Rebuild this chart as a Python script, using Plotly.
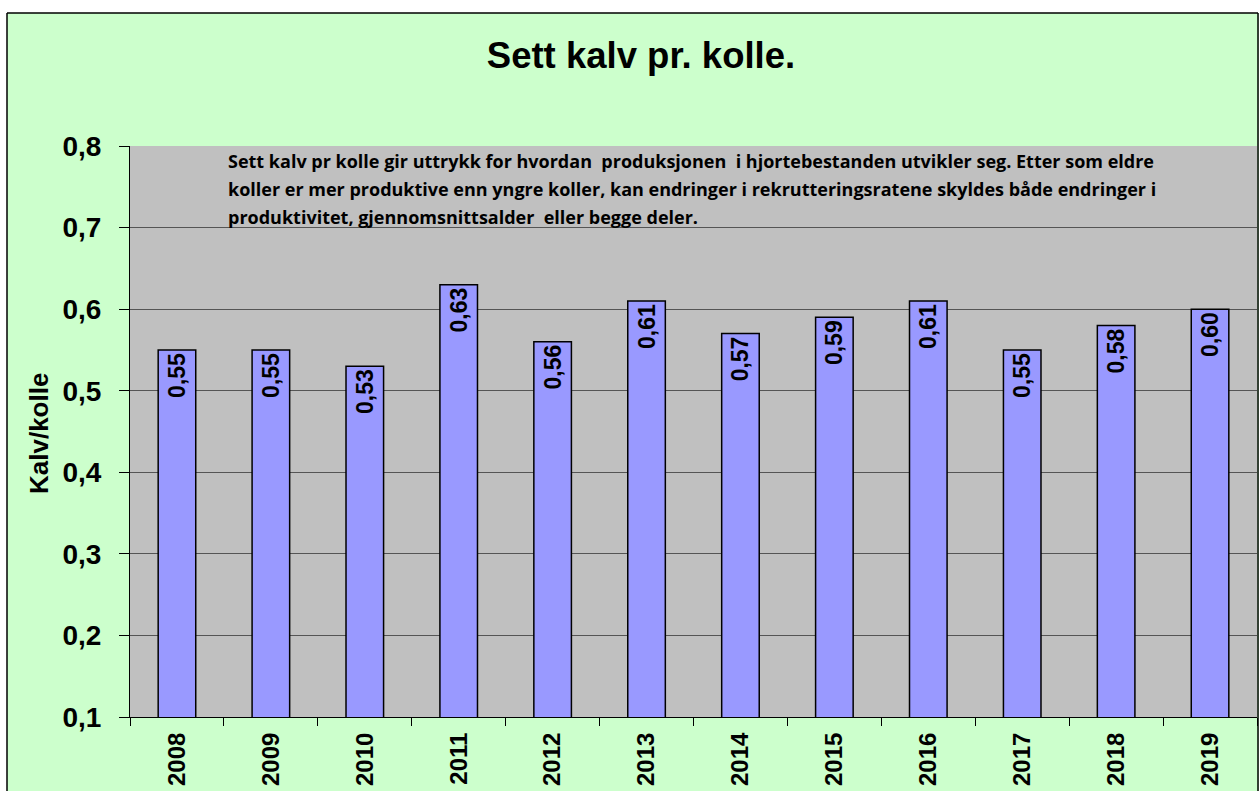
import plotly.graph_objects as go

years = ["2008", "2009", "2010", "2011", "2012", "2013", "2014", "2015", "2016", "2017", "2018", "2019"]
values = [0.55, 0.55, 0.53, 0.63, 0.56, 0.61, 0.57, 0.59, 0.61, 0.55, 0.58, 0.60]
title_text = "Sett kalv pr. kolle."
y_title = "Kalv/kolle"
note_lines = [
    "Sett kalv pr kolle gir uttrykk for hvordan  produksjonen  i hjortebestanden utvikler seg. Etter som eldre",
    "koller er mer produktive enn yngre koller, kan endringer i rekrutteringsratene skyldes både endringer i",
    "produktivitet, gjennomsnittsalder  eller begge deler.",
]

W, H = 1259, 791
L, R, T, B = 130, 1257, 146, 717


def px(x):
    return (x - L) / (R - L)


def py(y):
    return (B - y) / (B - T)


FONT = "Liberation Sans, Arial, sans-serif"

fig = go.Figure()
fig.add_trace(go.Bar(
    x=years, y=values,
    marker=dict(color="#9999FF", line=dict(color="#000000", width=1.5)),
    width=0.4,
    texttemplate="%{y:.2f}",
    textposition="inside",
    insidetextanchor="end",
    textangle=-90,
    constraintext="none",
    textfont=dict(family=FONT, size=23, color="#000000", weight="bold"),
    hoverinfo="x+y",
))

annotations = [
    dict(text=y_title, x=px(39), y=py(434), xref="paper", yref="paper", showarrow=False,
         xanchor="center", yanchor="middle",
         textangle=-90, font=dict(family=FONT, size=26, color="#000", weight="bold")),
]
for i, line in enumerate(note_lines):
    annotations.append(dict(text=line, x=px(226), y=py(161 + 28 * i), xref="paper", yref="paper",
                            xanchor="left", yanchor="middle", showarrow=False, align="left",
                            font=dict(family="Open Sans, sans-serif", size=18, color="#000", weight="bold")))

shapes = [
    dict(type="rect", xref="paper", yref="paper", x0=px(-5), x1=px(W + 5), y0=py(13), y1=py(-5),
         fillcolor="white", line=dict(width=0), layer="below"),
    dict(type="rect", xref="paper", yref="paper", x0=px(-5), x1=px(7), y0=py(H + 5), y1=py(13),
         fillcolor="white", line=dict(width=0), layer="below"),
    dict(type="line", xref="paper", yref="paper", x0=px(7), x1=px(1258), y0=py(13), y1=py(13),
         line=dict(color="#000", width=1.5)),
    dict(type="line", xref="paper", yref="paper", x0=px(7), x1=px(7), y0=py(13), y1=py(H + 5),
         line=dict(color="#000", width=1.5)),
    dict(type="line", xref="paper", yref="paper", x0=px(1258), x1=px(1258), y0=py(13), y1=py(H + 5),
         line=dict(color="#000", width=1.5)),
]

fig.update_layout(
    width=W, height=H,
    margin=dict(l=L, r=W - R, t=T, b=H - B, autoexpand=False),
    paper_bgcolor="#CCFFCC",
    plot_bgcolor="#C0C0C0",
    separators=",.",
    showlegend=False,
    title=dict(text=title_text, x=(487 + 795) / 2 / W, xref="container", xanchor="center",
               y=1 - 55 / H, yref="container", yanchor="middle",
               font=dict(family=FONT, size=36.5, color="#000", weight="bold")),
    annotations=annotations,
    shapes=shapes,
    xaxis=dict(
        type="category", tickangle=-90, tickson="boundaries", ticks="outside", ticklen=8,
        tickcolor="#000", showline=True, linecolor="#000", linewidth=1, showgrid=False,
        ticklabelstandoff=5,
        tickfont=dict(family=FONT, size=24, color="#000", weight="bold"),
        range=[-0.5, 11.5],
    ),
    yaxis=dict(
        range=[0.1, 0.8], dtick=0.1, tick0=0.1, tickformat=".1f",
        ticks="outside", ticklen=10, tickcolor="#000", ticklabelstandoff=12,
        showline=True, linecolor="#000", linewidth=1,
        showgrid=True, gridcolor="#555555", gridwidth=1, zeroline=False,
        tickfont=dict(family=FONT, size=28, color="#000", weight="bold"),
    ),
)

fig.write_html("out.html", config={"displayModeBar": False},
               post_script="document.body.style.margin='0';document.body.style.overflow='hidden';")
